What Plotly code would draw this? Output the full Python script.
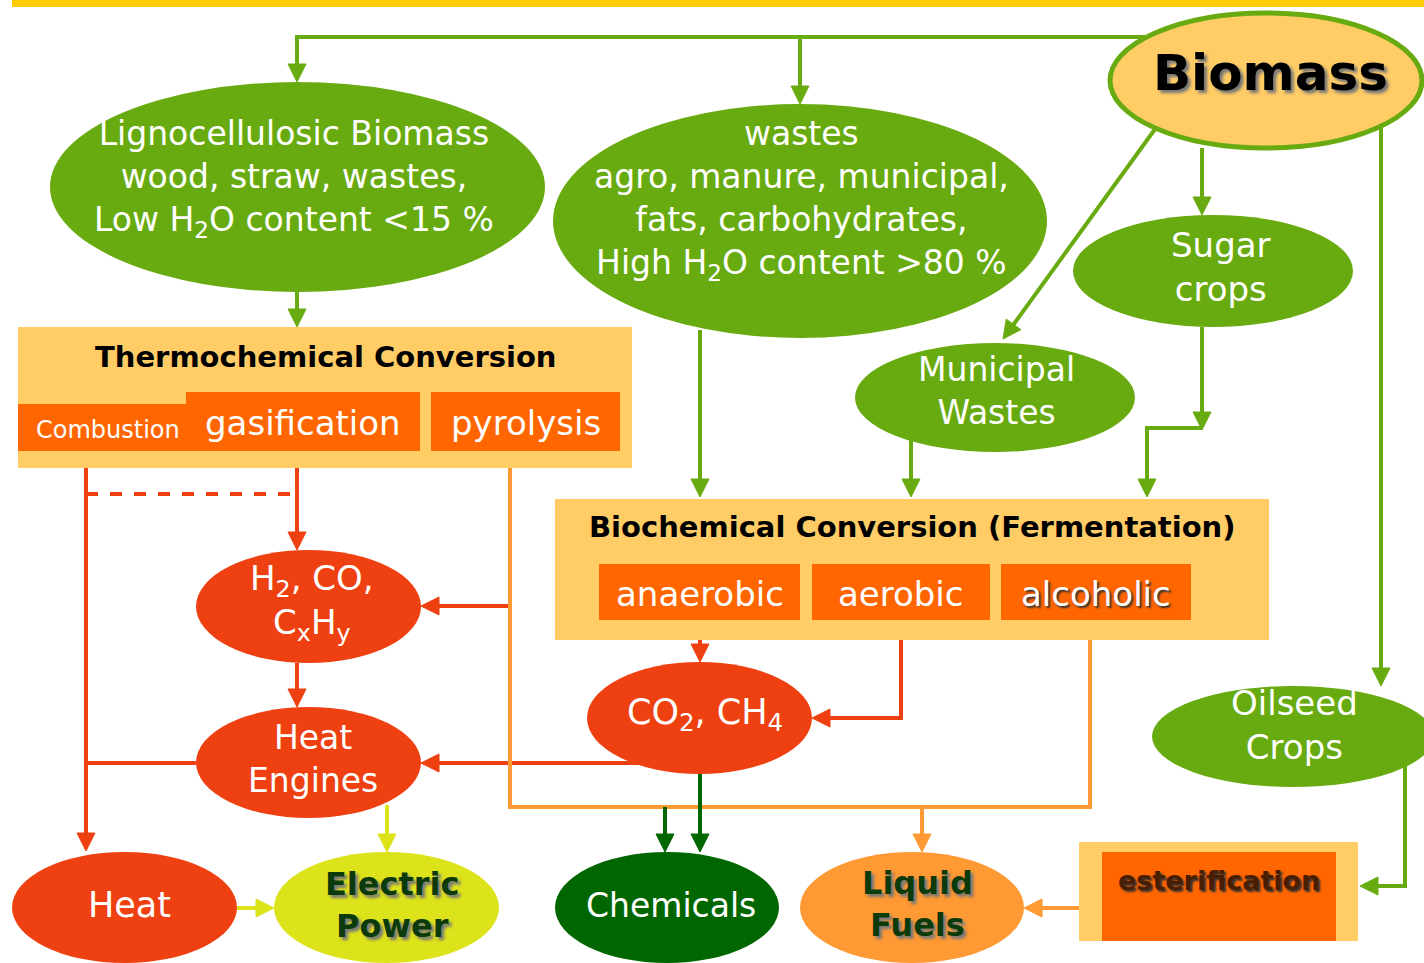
import plotly.graph_objects as go

W, H = 1424, 963
FONT = "DejaVu Sans"

GREEN = "#68AB10"
RED = "#EE4010"
ORANGE = "#FF9933"
DKGREEN = "#006600"
YELLOW = "#DDE31A"
BOXBG = "#FFCC66"
BOXFG = "#FF6600"
GOLD = "#FFCC00"

# ---- node texts ----
ellipse_names = ["Biomass", "Lignocellulosic", "Wastes", "Sugar", "Municipal", "Oilseed",
                 "Syngas", "HeatEngines", "CO2", "Heat", "Electric", "Chemicals", "Liquid"]
ellipse_texts = [
    "Biomass",
    "Lignocellulosic Biomass<br>wood, straw, wastes,<br>Low H<sub>2</sub>O content <15 %",
    "wastes<br>agro, manure, municipal,<br>fats, carbohydrates,<br>High H<sub>2</sub>O content >80 %",
    "Sugar<br>crops",
    "Municipal<br>Wastes",
    "Oilseed<br>Crops",
    "H<sub>2</sub>, CO,<br>C<sub>x</sub>H<sub>y</sub>",
    "Heat<br>Engines",
    "CO<sub>2</sub>, CH<sub>4</sub>",
    "Heat",
    "Electric<br>Power",
    "Chemicals",
    "Liquid<br>Fuels",
]
box_titles = ["Thermochemical Conversion", "Biochemical Conversion (Fermentation)"]
process_texts = ["Combustion", "gasification", "pyrolysis", "anaerobic", "aerobic", "alcoholic", "esterification"]

# ---- geometry (pixel layout) ----
ellipse_geom = {
    "Biomass": (1110, 13, 1422, 148),
    "Lignocellulosic": (50, 82, 545, 292),
    "Wastes": (553, 104, 1047, 338),
    "Sugar": (1073, 215, 1353, 327),
    "Municipal": (855, 343, 1135, 452),
    "Oilseed": (1152, 686, 1434, 787),
    "Syngas": (196, 550, 421, 663),
    "HeatEngines": (196, 707, 421, 818),
    "CO2": (587, 662, 812, 774),
    "Heat": (12, 852, 237, 963),
    "Electric": (274, 852, 499, 963),
    "Chemicals": (555, 852, 779, 963),
    "Liquid": (800, 852, 1024, 963),
}
ellipse_style = {
    "Biomass": (BOXBG, GREEN, "black", 50, 700),
    "Lignocellulosic": (GREEN, None, "white", 33, 400),
    "Wastes": (GREEN, None, "white", 33, 400),
    "Sugar": (GREEN, None, "white", 34, 400),
    "Municipal": (GREEN, None, "white", 33, 400),
    "Oilseed": (GREEN, None, "white", 34, 400),
    "Syngas": (RED, None, "white", 34, 400),
    "HeatEngines": (RED, None, "white", 33, 400),
    "CO2": (RED, None, "white", 35, 400),
    "Heat": (RED, None, "white", 35, 400),
    "Electric": (YELLOW, None, "#0B3A0B", 32, 700),
    "Chemicals": (DKGREEN, None, "white", 33, 400),
    "Liquid": (ORANGE, None, "#0B3A0B", 32, 700),
}
text_center_y = {
    "Biomass": 73, "Lignocellulosic": 178, "Wastes": 200, "Sugar": 267, "Municipal": 391,
    "Oilseed": 725, "Syngas": 602, "HeatEngines": 759, "CO2": 714, "Heat": 905,
    "Electric": 905, "Chemicals": 905, "Liquid": 904,
}
text_center_x = {"Biomass": 1270, "Oilseed": 1294, "Syngas": 312, "HeatEngines": 313, "Electric": 392,
                 "Liquid": 917, "Municipal": 996, "Sugar": 1221, "CO2": 705, "Heat": 129, "Chemicals": 671,
                 "Lignocellulosic": 294, "Wastes": 801}

big_boxes = [(18, 327, 632, 468), (555, 499, 1269, 640)]
title_pos = [(326, 357), (912, 527)]
process_geom = [(18, 404, 197, 451), (186, 392, 420, 451), (431, 392, 620, 451),
                (599, 564, 800, 620), (812, 564, 990, 620), (1001, 564, 1191, 620),
                (1102, 852, 1336, 941)]
process_text_y = [430, 423, 423, 594, 594, 594, 880]
process_font = [24, 34, 34, 34, 34, 34, 27]

# ---- edges ----
edges = [
    # (points, color, head, dash)
    ([(1150, 37), (297, 37), (297, 82)], GREEN, True, None),
    ([(800, 37), (800, 104)], GREEN, True, None),
    ([(297, 292), (297, 327)], GREEN, True, None),
    ([(1158, 125), (1003, 339)], GREEN, True, None),
    ([(1202, 148), (1202, 215)], GREEN, True, None),
    ([(1381, 128), (1381, 686)], GREEN, True, None),
    ([(700, 330), (700, 497)], GREEN, True, None),
    ([(911, 440), (911, 497)], GREEN, True, None),
    ([(1202, 327), (1202, 430)], GREEN, True, None),
    ([(1202, 428), (1147, 428), (1147, 497)], GREEN, True, None),
    ([(1405, 765), (1405, 886), (1360, 886)], GREEN, True, None),
    ([(86, 451), (86, 851)], RED, True, None),
    ([(86, 494), (297, 494)], RED, False, "dash"),
    ([(297, 451), (297, 550)], RED, True, None),
    ([(510, 606), (421, 606)], RED, True, None),
    ([(297, 663), (297, 707)], RED, True, None),
    ([(196, 763), (86, 763)], RED, False, None),
    ([(640, 763), (421, 763)], RED, True, None),
    ([(700, 620), (700, 662)], RED, True, None),
    ([(901, 620), (901, 718), (812, 718)], RED, True, None),
    ([(510, 451), (510, 807), (1090, 807), (1090, 640)], ORANGE, False, None),
    ([(922, 807), (922, 852)], ORANGE, True, None),
    ([(1079, 908), (1024, 908)], ORANGE, True, None),
    ([(700, 774), (700, 852)], DKGREEN, True, None),
    ([(665, 807), (665, 852)], DKGREEN, True, None),
    ([(387, 805), (387, 852)], YELLOW, True, None),
    ([(237, 908), (274, 908)], YELLOW, True, None),
]

shapes = []
annotations = []

# top gold bar
shapes.append(dict(type="rect", x0=12, x1=W, y0=0, y1=7, fillcolor=GOLD, line=dict(width=0), layer="above"))

HL, HW = 18, 9
for pts, col, head, dash in edges:
    pts = list(pts)
    if head:
        (xa, ya), (xb, yb) = pts[-2], pts[-1]
        dx, dy = xb - xa, yb - ya
        L = (dx * dx + dy * dy) ** 0.5
        ux, uy = dx / L, dy / L
        bx, by = xb - ux * HL, yb - uy * HL
        px, py = -uy, ux
        tri = f"M {xb},{yb} L {bx + px * HW},{by + py * HW} L {bx - px * HW},{by - py * HW} Z"
        pts[-1] = (bx + ux * 2, by + uy * 2)
    path = "M " + " L ".join(f"{x},{y}" for x, y in pts)
    shapes.append(dict(type="path", path=path, line=dict(color=col, width=4, dash=dash or "solid"),
                       fillcolor="rgba(0,0,0,0)", layer="above"))
    if head:
        shapes.append(dict(type="path", path=tri, fillcolor=col, line=dict(color=col, width=1), layer="above"))

# big boxes
for (x0, y0, x1, y1), title, (tx, ty) in zip(big_boxes, box_titles, title_pos):
    shapes.append(dict(type="rect", x0=x0, y0=y0, x1=x1, y1=y1, fillcolor=BOXBG, line=dict(width=0), layer="above"))
    annotations.append(dict(x=tx, y=ty, text=title, showarrow=False, xanchor="center", yanchor="middle",
                            font=dict(family=FONT, size=29, color="black", weight=700)))

# esterification outer box
shapes.append(dict(type="rect", x0=1079, y0=842, x1=1358, y1=941, fillcolor=BOXBG, line=dict(width=0), layer="above"))

for (x0, y0, x1, y1), t, ty, fs in zip(process_geom, process_texts, process_text_y, process_font):
    shapes.append(dict(type="rect", x0=x0, y0=y0, x1=x1, y1=y1, fillcolor=BOXFG, line=dict(width=0), layer="above"))
    col = "#4A1E00" if t == "esterification" else "white"
    shadow = "2px 2px 2px #333" if t in ("alcoholic", "esterification") else "none"
    annotations.append(dict(x=(x0 + x1) / 2, y=ty, text=t, showarrow=False, xanchor="center", yanchor="middle",
                            font=dict(family=FONT, size=fs, color=col, weight=700 if t == "esterification" else 400,
                                      shadow=shadow)))

for name, text in zip(ellipse_names, ellipse_texts):
    x0, y0, x1, y1 = ellipse_geom[name]
    fill, border, tcol, fs, wt = ellipse_style[name]
    shapes.append(dict(type="circle", x0=x0, y0=y0, x1=x1, y1=y1, fillcolor=fill,
                       line=dict(color=border or fill, width=5 if border else 0), layer="above"))
    cx = text_center_x.get(name, (x0 + x1) / 2)
    shadow = "3px 3px 3px #777" if name in ("Biomass", "Electric", "Liquid") else "none"
    annotations.append(dict(x=cx, y=text_center_y[name], text=text, showarrow=False, xanchor="center",
                            yanchor="middle",
                            font=dict(family=FONT, size=fs, color=tcol, weight=wt, shadow=shadow)))

fig = go.Figure()
fig.update_layout(
    width=W, height=H, margin=dict(l=0, r=0, t=0, b=0),
    paper_bgcolor="white", plot_bgcolor="white",
    xaxis=dict(range=[0, W], visible=False, fixedrange=True),
    yaxis=dict(range=[H, 0], visible=False, fixedrange=True),
    shapes=shapes, annotations=annotations, showlegend=False,
)
fig.write_html("out.html", config={"displayModeBar": False},
               post_script="document.body.style.margin='0';document.body.style.overflow='hidden';")
